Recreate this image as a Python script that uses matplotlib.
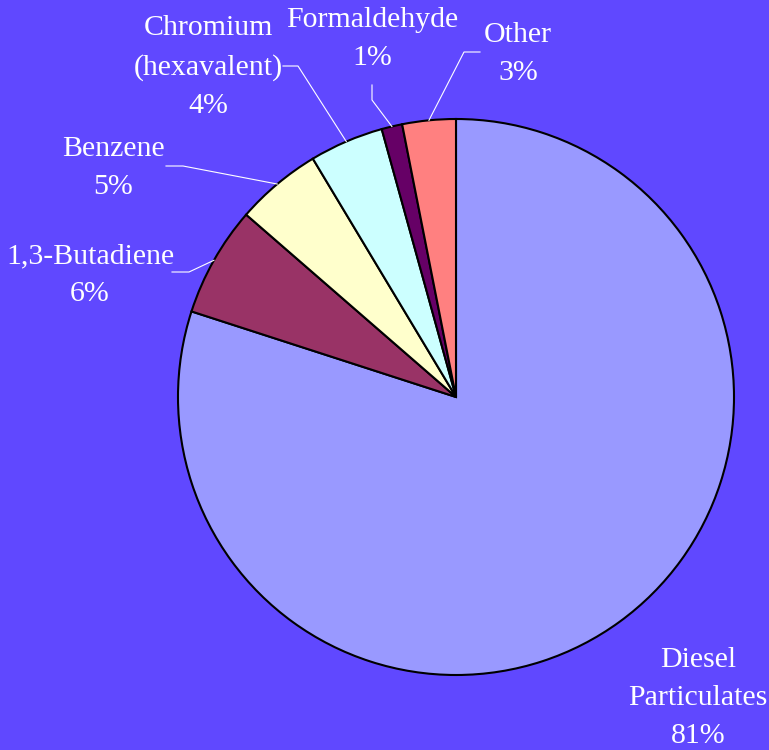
import numpy as np
import matplotlib
matplotlib.use("Agg")
import matplotlib.pyplot as plt

# data (order: clockwise from 12 o'clock)
categories = ["Diesel\nParticulates", "1,3-Butadiene", "Benzene",
              "Chromium\n(hexavalent)", "Formaldehyde", "Other"]
values = [79.9, 6.4, 5.0, 4.3, 1.2, 3.1]
pct_labels = ["81%", "6%", "5%", "4%", "1%", "3%"]
colors = ["#9999FF", "#993366", "#FFFFCC", "#CCFFFF", "#660066", "#FF8080"]

bg = "#6048FF"
W, H = 769, 750
cx, cy, R = 456, 397, 278  # pie centre / radius in pixels


def px(x, y):
    # pixel position -> data units (pie radius = 1)
    return (x - cx) / R, (cy - y) / R


fig = plt.figure(figsize=(W / 100, H / 100), dpi=100, facecolor=bg)
ax = fig.add_axes([0, 0, 1, 1])
ax.set_facecolor(bg)

wedges, _ = ax.pie(values, colors=colors, startangle=90, counterclock=False,
                   radius=1.0, center=(0, 0), frame=True,
                   wedgeprops=dict(edgecolor="black", linewidth=1.5))
ax.set_xlim(-cx / R, (W - cx) / R)
ax.set_ylim((cy - H) / R, cy / R)
ax.set_aspect("equal")
ax.axis("off")

# label centres and leader elbows (pixels); None = no leader line
label_pos = [(698, 698), (90, 275), (113, 168), (208, 67), (372, 39), (518, 54)]
leader = [None,
          [(172, 272), (189, 272)],
          [(166, 166), (183, 166)],
          [(283, 66), (298, 66)],
          [(372, 85), (372, 100)],
          [(480, 52), (464, 52)]]

for w, name, pct, pos, lead in zip(wedges, categories, pct_labels, label_pos, leader):
    x, y = px(*pos)
    ax.text(x, y, name + "\n" + pct, ha="center", va="center",
            multialignment="center", color="white", fontsize=21.5,
            family="Liberation Serif", linespacing=1.6)
    if lead is not None:
        mid = np.deg2rad((w.theta1 + w.theta2) / 2)
        pts = [px(*p) for p in lead] + [(np.cos(mid), np.sin(mid))]
        xs, ys = zip(*pts)
        ax.plot(xs, ys, color="white", linewidth=0.8, zorder=5)

fig.savefig("out.png", dpi=100, facecolor=bg)
